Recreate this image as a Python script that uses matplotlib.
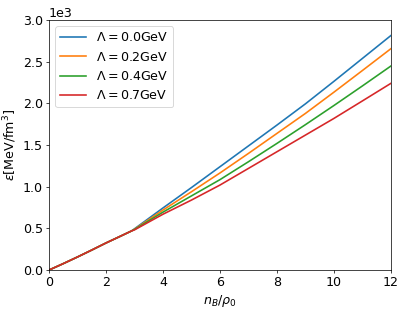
import matplotlib
matplotlib.use("Agg")
import matplotlib.pyplot as plt
import numpy as np

# shared low-density part
x_common = [0.0, 0.5, 1.0, 1.5, 2.0, 2.5, 2.9]
e_common = [0, 77, 157, 240, 325, 405, 470]

# separate high-density parts
x_high = [3, 4, 5, 6, 7, 8, 9, 10, 11, 12]
e_L00 = [495, 745, 990, 1240, 1490, 1740, 1995, 2265, 2540, 2815]
e_L02 = [490, 720, 940, 1165, 1400, 1640, 1880, 2135, 2395, 2657]
e_L04 = [487, 695, 890, 1085, 1300, 1520, 1745, 1975, 2210, 2449]
e_L07 = [482, 670, 840, 1020, 1220, 1420, 1620, 1820, 2030, 2241]

labels = [r"$\Lambda = 0.0$GeV", r"$\Lambda = 0.2$GeV",
          r"$\Lambda = 0.4$GeV", r"$\Lambda = 0.7$GeV"]
series = [e_L00, e_L02, e_L04, e_L07]

DPI = 65
plt.rcParams['font.size'] = 14
fig = plt.figure(figsize=(415 / DPI, 309 / DPI), dpi=DPI)
ax = fig.add_axes([0.118, 0.126, 0.824, 0.809])

for lab, s in zip(labels, series):
    ax.plot(x_common + x_high, e_common + s, label=lab, lw=1.8)

ax.set_xlim(0, 12)
ax.set_ylim(0, 3000)
ax.set_xticks([0, 2, 4, 6, 8, 10, 12])
ax.set_yticks([0, 500, 1000, 1500, 2000, 2500, 3000])
ax.ticklabel_format(axis='y', style='sci', scilimits=(0, 0))
ax.set_xlabel(r"$n_B/\rho_0$")
ax.set_ylabel(r"$\epsilon$[MeV/fm$^3$]")
ax.legend(loc='upper left')

fig.savefig("out.png", dpi=DPI)
